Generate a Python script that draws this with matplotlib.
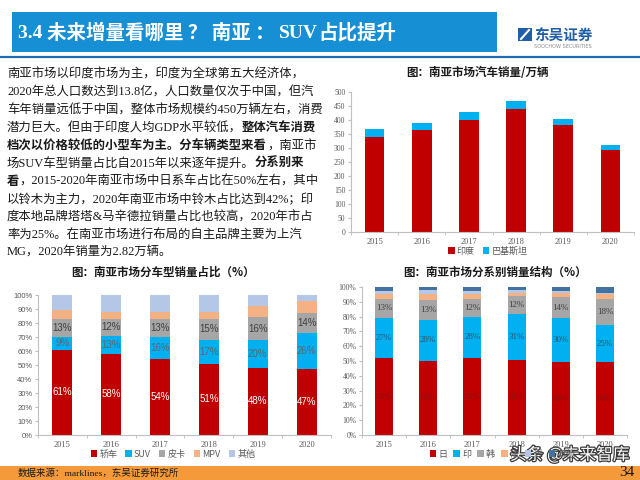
import matplotlib
matplotlib.use('Agg')
import numpy as np
import matplotlib.pyplot as plt
import matplotlib.patches as mpatches
import matplotlib.patheffects as pe
from matplotlib.ticker import PercentFormatter

W, H = 640, 480
CJK = ['Noto Sans CJK SC', 'DejaVu Sans']
MIX = ['Liberation Serif', 'Noto Sans CJK SC']
SERIF = ['Liberation Serif']

years = ['2015', '2016', '2017', '2018', '2019', '2020']

# 南亚市场汽车销量/万辆
india = [341, 365, 401, 439, 381, 294]
pakistan = [27, 26, 29, 30, 23, 15]

# 南亚市场分车型销量占比（%）
sedan = [61, 58, 54, 51, 48, 47]
suv = [9, 13, 16, 17, 20, 26]
pickup = [13, 12, 13, 15, 16, 14]
mpv = [6, 5, 5, 5, 8, 9]
other_type = [11, 12, 12, 12, 8, 4]

# 南亚市场分系别销量结构（%）
japan = [52, 50, 52, 51, 49, 49]
india_brand = [27, 28, 28, 31, 30, 25]
korea = [13, 13, 12, 12, 14, 18]
france = [3, 4, 3, 2, 3, 3]
usa = [2, 3, 2, 2, 1, 1]
other_brand = [3, 2, 3, 2, 3, 4]

RED = '#C00000'
BLUE = '#00B0F0'
GRAY = '#A6A6A6'
ORANGE = '#F4B183'
LBLUE = '#B4C7E7'
DBLUE = '#44729E'
AXC = '#BFBFBF'
TXT = '#595959'

title_runs = [('3.4 ', SERIF), ('未来增量看哪里 ？ 南亚 ： ', CJK), ('SUV', SERIF), ('占比提升', CJK)]

# paragraph: (text, bold) runs per line
para = [
    [('南亚市场以印度市场为主，印度为全球第五大经济体，', False)],
    [('2020年总人口数达到13.8亿，人口数量仅次于中国，但汽', False)],
    [('车年销量远低于中国，整体市场规模约450万辆左右，消费', False)],
    [('潜力巨大。但由于印度人均GDP水平较低，', False), ('整体汽车消费', True)],
    [('档次以价格较低的小型车为主。分车辆类型来看', True), ('，南亚市', False)],
    [('场SUV车型销量占比自2015年以来逐年提升。', False), ('分系别来', True)],
    [('看', True), ('，2015-2020年南亚市场中日系车占比在50%左右，其中', False)],
    [('以铃木为主力，2020年南亚市场中铃木占比达到42%；印', False)],
    [('度本地品牌塔塔&马辛德拉销量占比也较高，2020年市占', False)],
    [('率为25%。在南亚市场进行布局的自主品牌主要为上汽', False)],
    [('MG，2020年销量为2.82万辆。', False)],
]

fig = plt.figure(figsize=(6.4, 4.8), dpi=100)
fig.patch.set_facecolor('white')
renderer = fig.canvas.get_renderer()


def fx(x):
    return x / W


def fy(y):
    return 1 - y / H


def box(l, t, r, b, color):
    fig.add_artist(mpatches.Rectangle((fx(l), fy(b)), (r - l) / W, (b - t) / H,
                                      transform=fig.transFigure, color=color, lw=0))


def make_axes(l, t, r, b):
    return fig.add_axes([fx(l), fy(b), (r - l) / W, (b - t) / H])


def style(ax, ylab_family):
    for s in ['top', 'right']:
        ax.spines[s].set_visible(False)
    ax.spines['left'].set_color(AXC)
    ax.spines['bottom'].set_color(AXC)
    ax.set_xlim(-0.5, 5.5)
    ax.set_xticks(range(6))
    ax.set_xticklabels(years, family='Liberation Serif', fontsize=6, color=TXT)
    ax.tick_params(axis='x', which='major', length=0, pad=4)
    ax.set_xticks(np.arange(-0.5, 6, 1), minor=True)
    ax.tick_params(axis='x', which='minor', length=2.5, color=AXC)
    ax.tick_params(axis='y', length=2.5, color=AXC, labelsize=5.5,
                   labelcolor=TXT, pad=1.5)
    for lab in ax.get_yticklabels():
        lab.set_family(ylab_family)


def legend(handles, labels, x, y, **kw):
    fig.legend(handles, labels, loc='center', bbox_to_anchor=(fx(x), fy(y)),
               ncol=len(labels), frameon=False, handlelength=0.7, handleheight=0.7,
               handletextpad=0.25, columnspacing=0.9, borderpad=0,
               prop={'family': CJK, 'size': 6.5}, labelcolor=TXT, **kw)


# header
box(12, 12, 497, 52, '#168FD4')
x = 18
for s, fam in title_runs:
    t = fig.text(fx(x), fy(33), s, color='white', fontsize=14, fontweight='bold',
                 family=fam, va='center')
    x += t.get_window_extent(renderer).width
fig.add_artist(plt.Line2D([0, 1], [fy(57), fy(57)], transform=fig.transFigure,
                          color='#1F6DB0', lw=1.6))
# logo
box(518, 28, 532, 41, '#1F5FA8')
fig.add_artist(plt.Line2D([fx(521), fx(529)], [fy(39), fy(30)], transform=fig.transFigure,
                          color='white', lw=1.5))
fig.text(fx(534), fy(35), '东吴证券', color='#1F5FA8', fontsize=10.5,
         fontweight='bold', family=CJK, va='center')
fig.text(fx(534), fy(46), 'SOOCHOW SECURITIES', color='#8C8C8C', fontsize=3.6,
         family='DejaVu Sans', va='center')

# paragraph
for i, runs in enumerate(para):
    x = 7
    y = 75 + i * 17.8
    for s, bold in runs:
        t = fig.text(fx(x), fy(y), s, fontsize=8.9, family=MIX, color='#1A1A1A',
                     fontweight='bold' if bold else 'normal', va='center', ha='left')
        x += t.get_window_extent(renderer).width

# chart 1: 南亚市场汽车销量
fig.text(fx(477), fy(72), '图：南亚市场汽车销量/万辆', fontsize=8.3, fontweight='bold',
         family=CJK, ha='center', va='center', color='#1A1A1A')
ax1 = make_axes(351, 92, 634, 232)
x = np.arange(len(years))
b1 = ax1.bar(x, india, 0.42, color=RED)
b2 = ax1.bar(x, pakistan, 0.42, bottom=india, color=BLUE)
ax1.set_ylim(0, 500)
ax1.set_yticks(range(0, 501, 50))
style(ax1, 'Liberation Serif')
legend([b1, b2], ['印度', '巴基斯坦'], 488, 251)

# chart 2: 分车型销量占比
fig.text(fx(163), fy(272), '图：南亚市场分车型销量占比（%）', fontsize=8.3,
         fontweight='bold', family=CJK, ha='center', va='center', color='#1A1A1A')
ax2 = make_axes(38, 295, 331, 435)
series2 = [sedan, suv, pickup, mpv, other_type]
colors2 = [RED, BLUE, GRAY, ORANGE, LBLUE]
names2 = ['轿车', 'SUV', '皮卡', 'MPV', '其他']
lab2 = ['white', '#5A6670', '#404040', None, None]
bottom = np.zeros(6)
hs = []
for vals, c, lc in zip(series2, colors2, lab2):
    h = ax2.bar(x, vals, 0.41, bottom=bottom, color=c)
    hs.append(h)
    if lc:
        for xi, v, b0 in zip(x, vals, bottom):
            ax2.text(xi, b0 + v / 2, f'{v}%', ha='center', va='center', fontsize=7,
                     color=lc, family='Liberation Sans')
    bottom = bottom + np.array(vals)
ax2.set_ylim(0, 100)
ax2.set_yticks(range(0, 101, 10))
ax2.yaxis.set_major_formatter(PercentFormatter(xmax=100, decimals=0))
style(ax2, 'Liberation Sans')
legend(hs, names2, 173, 454)

# chart 3: 分系别销量结构
fig.text(fx(495), fy(272), '图：南亚市场分系别销量结构（%）', fontsize=8.3,
         fontweight='bold', family=CJK, ha='center', va='center', color='#1A1A1A')
ax3 = make_axes(362, 287, 627, 435)
series3 = [japan, india_brand, korea, france, usa, other_brand]
colors3 = [RED, BLUE, GRAY, ORANGE, LBLUE, DBLUE]
names3 = ['日', '印', '韩', '法', '美', '其他']
lab3 = ['#8E1212', '#2F5570', '#404040', None, None, None]
bottom = np.zeros(6)
hs = []
for vals, c, lc in zip(series3, colors3, lab3):
    h = ax3.bar(x, vals, 0.41, bottom=bottom, color=c)
    hs.append(h)
    if lc:
        for xi, v, b0 in zip(x, vals, bottom):
            ax3.text(xi, b0 + v / 2, f'{v}%', ha='center', va='center', fontsize=6.5,
                     color=lc, family='Liberation Serif')
    bottom = bottom + np.array(vals)
ax3.set_ylim(0, 100)
ax3.set_yticks(range(0, 101, 10))
ax3.yaxis.set_major_formatter(PercentFormatter(xmax=100, decimals=0))
style(ax3, 'Liberation Serif')
fig.legend(hs, names3, loc='center left', bbox_to_anchor=(fx(425), fy(454)),
           ncol=6, frameon=False, handlelength=0.7, handleheight=0.7,
           handletextpad=0.25, columnspacing=0.7, borderpad=0,
           prop={'family': CJK, 'size': 6.5}, labelcolor=TXT)

# footer
box(0, 466, 640, 480, '#F59A3A')
fig.text(fx(18), fy(473), '数据来源：marklines，东吴证券研究所', fontsize=6.8,
         family=MIX, va='center', color='#1A1A1A')
fig.text(fx(634), fy(472), '34', fontsize=11, family='Liberation Serif',
         ha='right', va='center', color='#1A1A1A')
fig.text(fx(510), fy(455), '头条 @未来智库', fontsize=12, family=CJK, color='white',
         va='center', path_effects=[pe.withStroke(linewidth=1.8, foreground='#3A3A3A')])

fig.savefig('out.png', dpi=100)
